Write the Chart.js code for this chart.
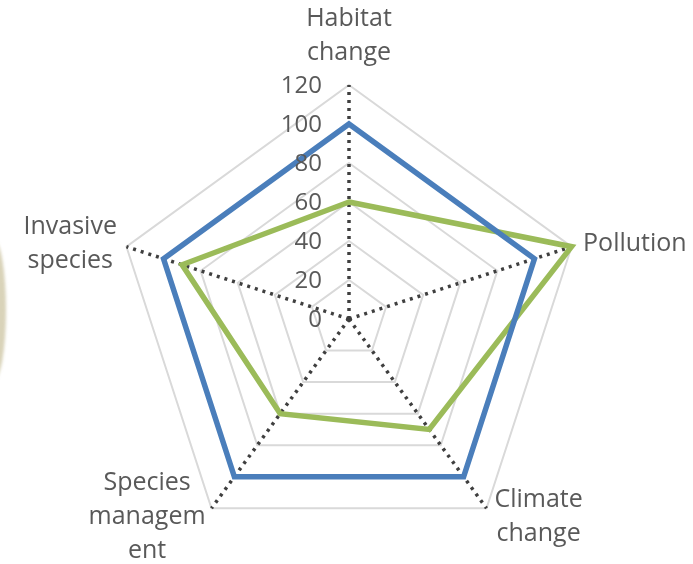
<!DOCTYPE html>
<html>
<head>
<meta charset="utf-8">
<script src="https://cdn.jsdelivr.net/npm/chart.js@4/dist/chart.umd.min.js"></script>
<style>
  body { margin: 0; background: #fff; }
  #wrap { position: relative; width: 693px; height: 564px; overflow: hidden; }
  #smudge {
    position: absolute; left: -18px; top: 240px; width: 24px; height: 140px;
    background: #d9d3b9; border-radius: 50%; filter: blur(1.5px);
  }
</style>
</head>
<body>
<div id="wrap">
  <div id="smudge"></div>
  <canvas id="radarChart" width="693" height="564"></canvas>
</div>
<script>
const categories = [
    ['Habitat', 'change'],
    ['Pollution'],
    ['Climate', 'change'],
    ['Species', 'managem', 'ent'],
    ['Invasive', 'species']
];
const seriesBlue = [100, 100, 100, 100, 100];
const seriesGreen = [60, 120, 70, 60, 90];
const tickLabels = [0, 20, 40, 60, 80, 100, 120];

const textColor = '#595959';
const fontFamily = '"Open Sans", sans-serif';

// tick numbers sit left of the vertical axis and on top of the lines
const tickLabelPlugin = {
    id: 'tickLabelPlugin',
    afterDatasetsDraw(chart) {
        const scale = chart.scales.r;
        const ctx = chart.ctx;
        ctx.save();
        ctx.font = '24px ' + fontFamily;
        ctx.fillStyle = textColor;
        ctx.textAlign = 'right';
        ctx.textBaseline = 'middle';
        tickLabels.forEach((v) => {
            const y = scale.yCenter - scale.getDistanceFromCenterForValue(v);
            ctx.fillText(String(v), scale.xCenter - 27, y + 1);
        });
        ctx.restore();
    }
};

// category labels, lines centred inside their block like the original
const pointLabelPlugin = {
    id: 'pointLabelPlugin',
    afterDraw(chart) {
        const scale = chart.scales.r;
        const ctx = chart.ctx;
        const lineH = 34;
        ctx.save();
        ctx.font = '25px ' + fontFamily;
        ctx.fillStyle = textColor;
        ctx.textAlign = 'center';
        ctx.textBaseline = 'middle';
        categories.forEach((lines, i) => {
            const p = scale.getPointPosition(i, scale.drawingArea + 10);
            const w = Math.max(...lines.map((l) => ctx.measureText(l).width));
            const h = lines.length * lineH;
            const cos = Math.cos(p.angle);
            const sin = Math.sin(p.angle);
            let left, top;
            if (Math.abs(cos) < 0.1) {
                left = p.x - w / 2;
                top = sin < 0 ? p.y - 5 - h : p.y + 5;
            } else {
                left = cos > 0 ? p.x + 2 : p.x - w;
                top = p.y - h / 2;
            }
            lines.forEach((l, j) => {
                ctx.fillText(l, left + w / 2, top + lineH * j + lineH / 2);
            });
        });
        ctx.restore();
    }
};

function buildRadarChart() {
    const ctx = document.getElementById('radarChart');

    const data = {
        labels: categories,
        datasets: [{
            label: 'Series 1',
            data: seriesBlue,
            borderColor: '#4a7ebb',
            borderWidth: 5.5,
            backgroundColor: 'rgba(0,0,0,0)',
            fill: false,
            pointRadius: 0,
            pointHoverRadius: 0
        }, {
            label: 'Series 2',
            data: seriesGreen,
            borderColor: '#9bbb59',
            borderWidth: 5.5,
            backgroundColor: 'rgba(0,0,0,0)',
            fill: false,
            pointRadius: 0,
            pointHoverRadius: 0
        }]
    };

    const config = {
        type: 'radar',
        data: data,
        options: {
            responsive: false,
            animation: false,
            layout: { padding: { left: 115, top: 85, right: 110, bottom: 11 } },
            elements: { line: { tension: 0, borderJoinStyle: 'miter' } },
            plugins: {
                legend: { display: false },
                tooltip: { enabled: false }
            },
            scales: {
                r: {
                    min: 0,
                    max: 120,
                    ticks: { stepSize: 20, display: false },
                    pointLabels: { display: false },
                    grid: { color: '#d9d9d9', lineWidth: 2 },
                    angleLines: {
                        color: '#3f3f3f',
                        lineWidth: 3.5,
                        borderDash: [3, 5]
                    }
                }
            }
        },
        plugins: [tickLabelPlugin, pointLabelPlugin]
    };

    new Chart(ctx, config);
}

buildRadarChart();
</script>
</body>
</html>
